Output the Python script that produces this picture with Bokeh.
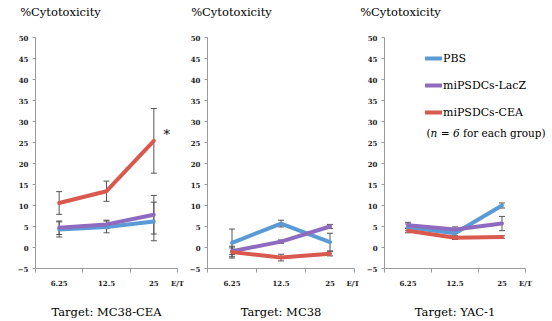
from bokeh.plotting import figure
from bokeh.models import (Range1d, FixedTicker, Whisker, TeeHead, ColumnDataSource,
                          Label, Legend, LegendItem, LinearAxis)
from bokeh.layouts import row
from bokeh.embed import file_html
from bokeh.resources import INLINE

# ---------------- data ----------------
categories = ["6.25", "12.5", "25"]
axis_end_label = "E/T"
y_ticks = [-5, 0, 5, 10, 15, 20, 25, 30, 35, 40, 45, 50]
y_title = "%Cytotoxicity"
series_names = ["PBS", "miPSDCs-LacZ", "miPSDCs-CEA"]
series_colors = ["#5B9BD5", "#8E6BBE", "#D9594F"]
targets = ["Target: MC38-CEA", "Target: MC38", "Target: YAC-1"]

# MC38-CEA
mc38cea_pbs = [4.3, 4.9, 6.2]
mc38cea_pbs_err = [1.8, 1.4, 4.6]
mc38cea_lacz = [4.7, 5.5, 7.8]
mc38cea_lacz_err = [1.6, 1.0, 4.6]
mc38cea_cea = [10.6, 13.4, 25.4]
mc38cea_cea_err = [2.7, 2.4, 7.7]

# MC38
mc38_pbs = [1.1, 5.7, 1.3]
mc38_pbs_err = [3.3, 0.8, 2.1]
mc38_lacz = [-0.9, 1.4, 5.0]
mc38_lacz_err = [0.8, 0.4, 0.5]
mc38_cea = [-1.1, -2.4, -1.5]
mc38_cea_err = [1.4, 0.8, 0.5]

# YAC-1
yac_pbs = [4.8, 3.4, 10.0]
yac_pbs_err = [0.8, 0.6, 0.6]
yac_lacz = [5.3, 4.3, 5.7]
yac_lacz_err = [0.7, 0.6, 1.7]
yac_cea = [4.0, 2.3, 2.5]
yac_cea_err = [0.5, 0.4, 0.3]

# significance marker (panel 1)
star_text = "*"
star_category = "25"
star_value = 27.4

note_parts = [("(", "normal"), ("n", "italic"), ("=", "normal"), ("6", "italic"),
              ("for each group)", "normal")]

SERIF = "DejaVu Serif"
AXIS_COLOR = "#9a9a9a"
ERR_COLOR = "#555555"
CANVAS_H = 321
BT = 37
BB = 42
TITLE_W = 92  # approx. rendered width of the y title, px


def text_axis(p, pos, tick, text, standoff, size):
    ax = LinearAxis(ticker=FixedTicker(ticks=[tick]), major_label_overrides={tick: text})
    ax.axis_line_color = None
    ax.major_tick_line_color = None
    ax.minor_tick_line_color = None
    ax.major_label_standoff = standoff
    ax.major_label_text_font = SERIF
    ax.major_label_text_font_size = size
    ax.major_label_text_color = "black"
    p.add_layout(ax, pos)


def make_panel(k, series, errs, bl, frame_w, br, title_left, extra_right=0):
    n = len(categories)
    xs = [i + 0.5 for i in range(n)]
    ppu = frame_w / n
    p = figure(width=bl + frame_w + int(extra_right) + br, height=CANVAS_H,
               x_range=Range1d(0, n + extra_right / ppu),
               y_range=Range1d(y_ticks[0], y_ticks[-1]),
               output_backend="svg", toolbar_location=None,
               min_border_left=bl, min_border_right=br,
               min_border_top=BT, min_border_bottom=BB)
    p.outline_line_color = None
    p.xgrid.visible = False
    p.ygrid.visible = False

    # x axis: category boundaries as ticks, labels centred between
    xa = p.xaxis[0]
    xa.bounds = (0, n)
    xa.ticker = FixedTicker(ticks=xs + [float(n)], minor_ticks=list(range(n + 1)))
    overrides = {x: c for x, c in zip(xs, categories)}
    overrides[float(n)] = axis_end_label
    xa.major_label_overrides = overrides
    xa.major_tick_out = 0
    xa.major_tick_in = 0
    xa.minor_tick_out = 4
    xa.minor_tick_in = 0
    xa.axis_line_color = AXIS_COLOR
    xa.minor_tick_line_color = AXIS_COLOR
    xa.major_label_standoff = 6
    xa.major_label_text_font = SERIF
    xa.major_label_text_font_size = "7px"
    xa.major_label_text_font_style = "bold"
    xa.major_label_text_color = "#222222"

    ya = p.yaxis[0]
    ya.ticker = FixedTicker(ticks=y_ticks)
    ya.major_tick_out = 3
    ya.major_tick_in = 0
    ya.minor_tick_out = 0
    ya.minor_tick_in = 0
    ya.axis_line_color = AXIS_COLOR
    ya.major_tick_line_color = AXIS_COLOR
    ya.major_label_standoff = 4
    ya.major_label_text_font = SERIF
    ya.major_label_text_font_size = "7px"
    ya.major_label_text_font_style = "bold"
    ya.major_label_text_color = "#222222"

    renderers = []
    for vals, err, color in zip(series, errs, series_colors):
        src = ColumnDataSource(dict(x=xs, y=vals,
                                    upper=[v + e for v, e in zip(vals, err)],
                                    lower=[v - e for v, e in zip(vals, err)]))
        r = p.line("x", "y", source=src, line_color=color, line_width=4,
                   line_join="round", line_cap="round")
        renderers.append(r)
        w = Whisker(base="x", upper="upper", lower="lower", source=src,
                    line_color=ERR_COLOR, line_width=1,
                    upper_head=TeeHead(size=6, line_color=ERR_COLOR, line_width=1),
                    lower_head=TeeHead(size=6, line_color=ERR_COLOR, line_width=1))
        p.add_layout(w)

    # y title above the frame, target caption below the category axis
    title_tick = (title_left + TITLE_W / 2 - bl) / ppu
    text_axis(p, "above", title_tick, y_title, 13, "11.5px")
    text_axis(p, "below", n / 2, targets[k], 8, "11.5px")
    return p, renderers, xs


p1, r1, xs = make_panel(0, [mc38cea_pbs, mc38cea_lacz, mc38cea_cea],
                        [mc38cea_pbs_err, mc38cea_lacz_err, mc38cea_cea_err],
                        35, 142, 7, 14)
p1.add_layout(Label(x=xs[categories.index(star_category)], y=star_value,
                    x_offset=13, y_offset=-2,
                    text=star_text, text_font=SERIF, text_font_size="13px",
                    text_baseline="middle", text_align="center", text_color="black"))

p2, r2, _ = make_panel(1, [mc38_pbs, mc38_lacz, mc38_cea],
                       [mc38_pbs_err, mc38_lacz_err, mc38_cea_err],
                       23, 147, 5, 1)

p3, r3, _ = make_panel(2, [yac_pbs, yac_lacz, yac_cea],
                       [yac_pbs_err, yac_lacz_err, yac_cea_err],
                       25, 141, 3, -5, extra_right=24)

legend = Legend(items=[LegendItem(label=nm, renderers=[r]) for nm, r in zip(series_names, r3)],
                location=(41, 146), glyph_width=17, glyph_height=20, label_height=20,
                label_standoff=1, spacing=7, padding=0, margin=0,
                border_line_alpha=0, background_fill_alpha=0,
                label_text_font=SERIF, label_text_font_size="11px",
                label_text_color="black")
p3.add_layout(legend)

# "(n = 6 for each group)" with italic n and 6
offsets = [0, 4.1, 14.2, 26.4, 36.5]
for (txt, style), off in zip(note_parts, offsets):
    p3.add_layout(Label(x=0, y=y_ticks[-1], x_offset=42 + off, y_offset=-95,
                        text=txt, text_font=SERIF, text_font_size="10.5px",
                        text_font_style=style, text_baseline="middle",
                        text_color="black"))

layout = row(p1, p2, p3)
open("out.html", "w").write(file_html(layout, INLINE))
